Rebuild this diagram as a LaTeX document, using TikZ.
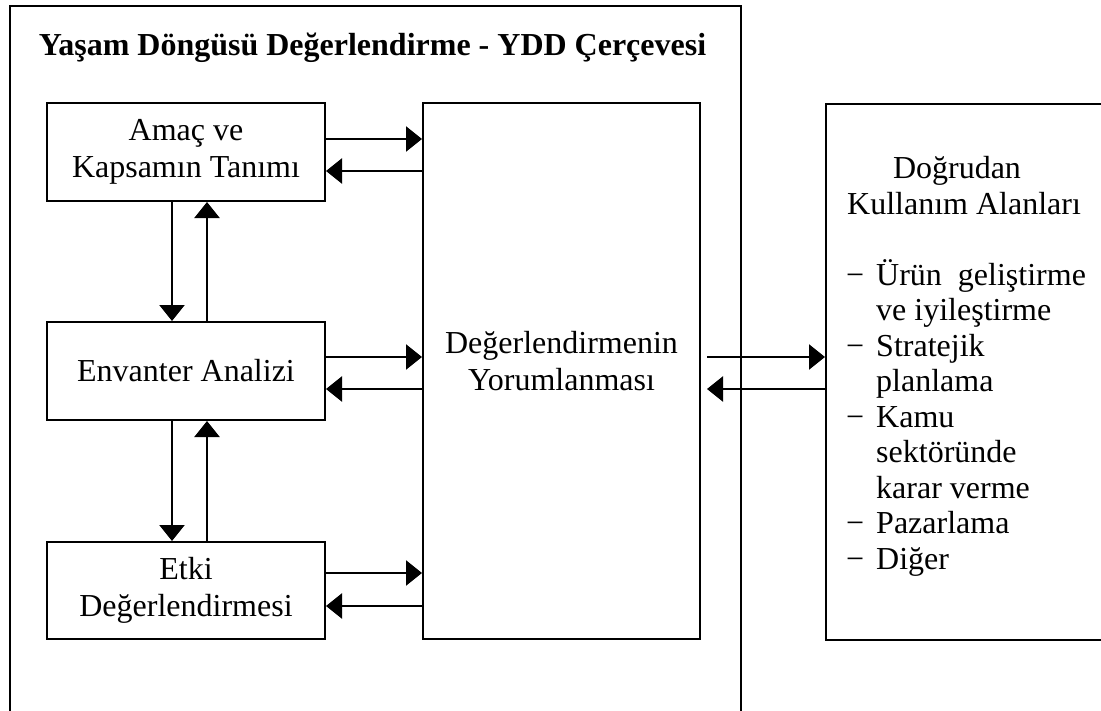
\documentclass[tikz,border=0pt]{standalone}
\usepackage{fontspec}
\setmainfont{Liberation Serif}
\usetikzlibrary{arrows.meta}
\tikzset{
  stage/.style={draw, line width=2pt, inner sep=0pt, minimum width=278pt,
    minimum height=98pt, align=center, font=\fontsize{32}{37.5}\selectfont},
  bigbox/.style={draw, line width=2pt, inner sep=0pt},
  boxtext/.style={align=center, inner sep=0pt, font=\fontsize{32}{37.5}\selectfont},
  usetext/.style={anchor=base west, inner sep=0pt, font=\fontsize{32}{34}\selectfont},
  flow/.style={line width=2.3pt, -{Triangle[length=16pt,width=25pt]}},
  frame/.style={line width=1.6pt},
}
\begin{document}
\begin{tikzpicture}[x=1pt,y=-1pt]
\useasboundingbox (0,0) rectangle (1101,710);
\clip (0,0) rectangle (1101,710);

% outer frame of the LCA framework (runs off the bottom edge)
\draw[frame] (10,6) rectangle (741,740);
\node[anchor=base, inner sep=0pt, font=\bfseries\fontsize{32}{38}\selectfont] (title)
  at (372.5,55) {Yaşam Döngüsü Değerlendirme - YDD Çerçevesi};

% phases
\node[stage] (goal) at (186,152) {Amaç ve\\Kapsamın Tanımı};
\node[stage] (inv) at (186,371) {Envanter Analizi};
\node[stage, minimum height=97pt] (imp) at (186,590.5) {Etki\\Değerlendirmesi};

% interpretation
\node[bigbox, minimum width=277pt, minimum height=536pt] (interp) at (561.5,371) {};
\node[boxtext] (interptxt) at (561.5,361) {Değerlendirmenin\\Yorumlanması};

% direct applications (runs off the right edge)
\node[bigbox, minimum width=300pt, minimum height=536pt] (use) at (976,371.5) {};
\node[usetext, anchor=base] (useh1) at (957,178.5) {Doğrudan};
\node[usetext] (useh2) at (847,214) {Kullanım Alanları};
\node[usetext] (u1) at (876,285) {\llap{−\hspace{12pt}}Ürün~ geliştirme};
\node[usetext] (u2) at (876,320.5) {ve iyileştirme};
\node[usetext] (u3) at (876,356) {\llap{−\hspace{12pt}}Stratejik};
\node[usetext] (u4) at (876,391.5) {planlama};
\node[usetext] (u5) at (876,427) {\llap{−\hspace{12pt}}Kamu};
\node[usetext] (u6) at (876,462.5) {sektöründe};
\node[usetext] (u7) at (876,498) {karar verme};
\node[usetext] (u8) at (876,533.5) {\llap{−\hspace{12pt}}Pazarlama};
\node[usetext] (u9) at (876,569) {\llap{−\hspace{12pt}}Diğer};

% phases <-> interpretation
\coordinate (ga) at ([yshift=13pt]goal.east);
\coordinate (gb) at ([yshift=-19pt]goal.east);
\draw[flow] (ga) -- (ga -| interp.west);
\draw[flow] (gb -| interp.west) -- (gb);
\coordinate (ia) at ([yshift=14pt]inv.east);
\coordinate (ib) at ([yshift=-18pt]inv.east);
\draw[flow] (ia) -- (ia -| interp.west);
\draw[flow] (ib -| interp.west) -- (ib);
\coordinate (ma) at ([yshift=17.5pt]imp.east);
\coordinate (mb) at ([yshift=-15.5pt]imp.east);
\draw[flow] (ma) -- (ma -| interp.west);
\draw[flow] (mb -| interp.west) -- (mb);

% phase to phase
\coordinate (gd) at ([xshift=-14pt]goal.south);
\coordinate (gu) at ([xshift=21pt]goal.south);
\draw[flow] (gd) -- (gd |- inv.north);
\draw[flow] (gu |- inv.north) -- (gu);
\coordinate (id) at ([xshift=-14pt]inv.south);
\coordinate (iu) at ([xshift=21pt]inv.south);
\draw[flow] (id) -- (id |- imp.north);
\draw[flow] (iu |- imp.north) -- (iu);

% interpretation <-> applications
\coordinate (ra) at ([xshift=6pt,yshift=14pt]interp.east);
\coordinate (rb) at ([xshift=6pt,yshift=-18pt]interp.east);
\draw[flow] (ra) -- (ra -| use.west);
\draw[flow] (rb -| use.west) -- (rb);
\end{tikzpicture}
\end{document}
